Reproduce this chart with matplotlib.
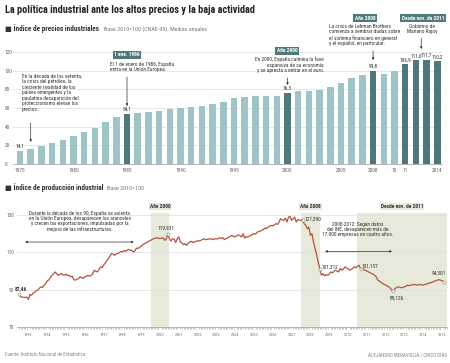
import matplotlib
matplotlib.use('Agg')
import matplotlib.pyplot as plt
from matplotlib import font_manager

# fuente condensada si está disponible
_names = {f.name for f in font_manager.fontManager.ttflist}
FONT = 'DejaVu Sans'
for fam in ['Liberation Sans Narrow', 'Roboto Condensed', 'Liberation Sans']:
    if fam in _names:
        FONT = fam
        break
plt.rcParams['font.family'] = [FONT, 'DejaVu Sans']

# --- datos: índice de precios industriales (medias anuales) ---
years = list(range(1975, 2015))
precios = [14.1, 15.9, 19.1, 22.3, 25.6, 29.9, 34.6, 38.9, 44.7, 50.1,
           54.1, 55.1, 55.5, 56.6, 58.7, 60.5, 61.6, 62.3, 64.1, 66.7,
           70.6, 72.1, 72.8, 72.8, 72.8, 76.3, 77.8, 78.6, 79.3, 82.8,
           86.8, 91.9, 95.1, 99.8, 96.6, 100.0, 106.9, 111.0, 111.7, 110.2]
dark_years = [1985, 2000, 2008, 2011, 2012, 2013, 2014]
bar_labels = {1975: '14,1', 1985: '54,1', 2000: '76,3', 2008: '99,8',
              2011: '106,9', 2012: '111,0', 2013: '111,7', 2014: '110,2'}
tick_years = [1975, 1980, 1985, 1990, 1995, 2000, 2005, 2008, 2010, 2011, 2014]
tick_text = ['1975', '1980', '1985', '1990', '1995', '2000', '2005', '2008', '10', '11', '2014']

# --- datos: índice de producción industrial (mensual, ene 1993 - ago 2015) ---
prod_1993 = [87.46, 86.2, 86.0, 85.9, 85.8, 86.0, 84.8, 87.4, 87.0, 88.1, 88.6, 89.4]
prod_1994 = [89.7, 90.8, 91.5, 91.2, 92.4, 93.0, 94.8, 95.2, 96.5, 97.7, 98.4, 99.5]
prod_1995 = [98.6, 97.7, 98.1, 98.6, 97.9, 97.7, 98.3, 97.5, 97.7, 96.8, 97.2, 95.3]
prod_1996 = [95.1, 95.6, 95.9, 96.8, 96.4, 96.0, 96.9, 97.1, 97.7, 97.2, 97.7, 98.3]
prod_1997 = [100.4, 99.8, 99.5, 100.6, 102.2, 101.8, 103.1, 104.2, 105.5, 106.6, 107.8, 109.3]
prod_1998 = [109.0, 108.4, 109.1, 109.3, 109.8, 110.4, 110.2, 110.9, 110.5, 111.1, 111.5, 111.1]
prod_1999 = [111.0, 110.2, 110.8, 112.3, 112.0, 112.8, 113.2, 114.1, 114.6, 115.0, 115.5, 116.0]
prod_2000 = [116.4, 116.9, 117.3, 117.6, 117.8, 117.5, 117.3, 117.6, 117.8, 116.4, 117.2, 119.931]
prod_2001 = [117.3, 116.0, 117.3, 117.0, 115.2, 117.3, 118.2, 115.5, 115.0, 114.1, 114.6, 113.7]
prod_2002 = [114.8, 115.5, 115.9, 115.2, 115.6, 115.8, 116.2, 116.0, 116.4, 116.8, 117.3, 116.7]
prod_2003 = [116.9, 117.1, 117.3, 117.0, 116.8, 117.3, 117.1, 117.3, 117.8, 117.4, 117.9, 116.8]
prod_2004 = [117.3, 117.6, 118.2, 118.6, 119.0, 118.5, 118.2, 118.8, 119.4, 118.9, 118.2, 120.0]
prod_2005 = [117.6, 118.4, 118.2, 118.7, 119.0, 119.6, 120.0, 119.7, 120.8, 121.0, 121.4, 121.7]
prod_2006 = [122.2, 123.0, 122.7, 123.5, 124.0, 124.4, 124.1, 124.8, 125.3, 125.0, 126.2, 128.0]
prod_2007 = [127.4, 127.1, 128.3, 126.2, 128.8, 129.2, 127.1, 128.0, 128.8, 126.2, 127.6, 127.2]
prod_2008 = [127.1, 127.39, 125.3, 124.6, 122.6, 123.5, 119.1, 120.0, 115.5, 112.0, 108.5, 104.6]
prod_2009 = [101.312, 97.7, 98.6, 97.4, 98.0, 97.7, 98.3, 99.5, 99.0, 99.8, 100.4, 99.9]
prod_2010 = [99.5, 101.3, 100.4, 101.0, 102.2, 101.6, 101.3, 100.4, 100.9, 101.3, 102.2, 101.7]
prod_2011 = [102.4, 103.1, 101.137, 101.3, 100.8, 100.4, 99.9, 99.5, 99.2, 98.6, 98.3, 97.7]
prod_2012 = [96.8, 95.1, 94.6, 94.0, 93.3, 92.9, 92.4, 92.0, 91.5, 90.8, 89.7, 89.126]
prod_2013 = [90.6, 91.1, 91.5, 91.3, 91.0, 91.2, 91.5, 91.9, 92.4, 92.1, 92.4, 92.6]
prod_2014 = [92.8, 92.6, 92.4, 92.7, 92.8, 92.5, 92.4, 92.8, 92.9, 93.3, 93.6, 93.8]
prod_2015 = [94.0, 94.5, 94.8, 95.1, 95.3, 95.1, 94.8, 94.301]

produccion = (prod_1993 + prod_1994 + prod_1995 + prod_1996 + prod_1997 + prod_1998 +
              prod_1999 + prod_2000 + prod_2001 + prod_2002 + prod_2003 + prod_2004 +
              prod_2005 + prod_2006 + prod_2007 + prod_2008 + prod_2009 + prod_2010 +
              prod_2011 + prod_2012 + prod_2013 + prod_2014 + prod_2015)
meses = [1993 + k / 12 for k in range(len(produccion))]

# puntos destacados: (índice del mes, etiqueta)
destacados = [(0, '87,46'), (95, '119,931'), (181, '127,390'), (192, '101,312'),
              (218, '101,137'), (239, '89,126'), (len(produccion) - 1, '94,301')]

LIGHT = '#9fc4c6'
DARK = '#4e7879'
LINE = '#b4533c'
BAND = '#e7e9da'
TXT = '#333333'
GREY = '#777777'

W, H = 450, 363
fig = plt.figure(figsize=(W / 100, H / 100), dpi=100)


def ftext(x, y, s, **kw):
    # texto en coordenadas de píxel (origen arriba a la izquierda)
    return fig.text(x / W, 1 - y / H, s, **kw)


def axes_px(left, top, right, bottom):
    return fig.add_axes([left / W, 1 - bottom / H, (right - left) / W, (bottom - top) / H])


# --- cabeceras ---
ftext(5, 10, 'La política industrial ante los altos precios y la baja actividad',
      fontsize=7.4, fontweight='bold', color='#222222', va='center')
ftext(5, 29, '■ Índice de precios industriales', fontsize=5.2, fontweight='bold', color=TXT, va='center')
ftext(104, 29.5, 'Base 2010=100 (CNAE-09). Medias anuales', fontsize=4.3, color=GREY, va='center')
ftext(5, 188, '■ Índice de producción industrial', fontsize=5.2, fontweight='bold', color=TXT, va='center')
ftext(107, 188.5, 'Base 2010=100', fontsize=4.3, color=GREY, va='center')

# ================= gráfico de barras =================
ax1 = axes_px(13, 15, 442, 164)
idx = list(range(len(years)))
colors = [DARK if y in dark_years else LIGHT for y in years]
ax1.bar(idx, precios, width=0.6, color=colors, zorder=2)
ax1.set_xlim(-0.654, 39.44)
ax1.set_ylim(0, 120 * 149 / 112)
ax1.set_yticks([0, 20, 40, 60, 80, 100, 120])
ax1.grid(axis='y', color='#dddddd', lw=0.5, zorder=0)
for s in ['top', 'right', 'left']:
    ax1.spines[s].set_visible(False)
ax1.spines['bottom'].set_color('#aaaaaa')
ax1.spines['bottom'].set_linewidth(0.6)
ax1.set_xticks([years.index(y) for y in tick_years])
ax1.set_xticklabels(tick_text)
ax1.tick_params(axis='x', length=0, pad=3.2, labelsize=3.9, labelcolor='#666666')
ax1.tick_params(axis='y', length=0, pad=5.8, labelsize=3.9, labelcolor='#666666')
for lab in ax1.get_yticklabels():
    lab.set_ha('left')

for y, lbl in bar_labels.items():
    i = years.index(y)
    ax1.annotate(lbl, (i, precios[i]), xytext=(0, 1.3), textcoords='offset points',
                 ha='center', va='bottom', fontsize=3.9, color=TXT)

# flechas (índice de barra, punta, cola)
flechas = [(1, 23.6, 43.9), (10, 62.1, 93.2), (25, 84.6, 92.1), (33, 111.4, 121.1), (37.5, 123.2, 135.0)]
for i, tip, tail in flechas:
    ax1.annotate('', xy=(i, tip), xytext=(i, tail), annotation_clip=False,
                 arrowprops=dict(arrowstyle='-|>', lw=0.5, color=TXT, mutation_scale=3,
                                 shrinkA=0, shrinkB=0))

box = dict(boxstyle='square,pad=0.25', fc=DARK, ec='none')
ann = dict(fontsize=3.9, color=TXT, linespacing=1.15)
ftext(22, 73.5, 'En la década de los setenta,\nla crisis del petróleo, la\ncreciente rivalidad de los\n'
      'países emergentes y la\npaulatina desaparición del\nproteccionismo elevan los\nprecios.',
      va='top', ha='left', **ann)
ftext(127, 55, '1 ene. 1986', ha='center', va='center', fontsize=3.9, fontweight='bold', color='white', bbox=box)
ftext(110, 61.5, 'El 1 de enero de 1986, España\nentra en la Unión Europea.', va='top', ha='left', **ann)
ftext(287, 51, 'Año 2000', ha='center', va='center', fontsize=3.9, fontweight='bold', color='white', bbox=box)
ftext(324, 56.5, 'En 2000, España culmina la fase\nexpansiva de su economía\ny se apresta a entrar en el euro.',
      va='top', ha='right', multialignment='right', **ann)
ftext(365, 18, 'Año 2008', ha='center', va='center', fontsize=3.9, fontweight='bold', color='white', bbox=box)
ftext(329, 23.5, 'La crisis de Lehman Brothers\ncomienza a sembrar dudas sobre\nel sistema financiero en general\n'
      'y el español, en particular.', va='top', ha='left', **ann)
ftext(423, 18, 'Desde nov. de 2011', ha='center', va='center', fontsize=3.9, fontweight='bold', color='white', bbox=box)
ftext(422, 23.5, 'Gobierno de\nMariano Rajoy', va='top', ha='center', multialignment='center', **ann)

# ================= gráfico de líneas =================
ax2 = axes_px(17, 200, 447, 327)
ax2.set_xlim(1993 - 2 / 18.8, 1993 + 428 / 18.8)
ax2.set_ylim(70, 138)
band_top = (131 - 70) / (138 - 70)
bandas = [(2000.0, 2001.0, 'Año 2000'), (2008.0, 2009.0, 'Año 2008'),
          (2010.98, 1993 + 428 / 18.8, 'Desde nov. de 2011')]
for x0, x1, lbl in bandas:
    ax2.axvspan(x0, x1, ymin=0, ymax=band_top, color=BAND, lw=0, zorder=0)
    ax2.text((x0 + x1) / 2, 134.3, lbl, ha='center', va='center', fontsize=3.9,
             fontweight='bold', color=TXT, bbox=dict(boxstyle='square,pad=0.2', fc=BAND, ec='none'))

ax2.set_yticks([70, 90, 110, 130])
ax2.grid(axis='y', color='#dddddd', lw=0.5, zorder=1)
ax2.plot(meses, produccion, color=LINE, lw=0.9, zorder=3)
for s in ['top', 'right', 'left']:
    ax2.spines[s].set_visible(False)
ax2.spines['bottom'].set_color('#aaaaaa')
ax2.spines['bottom'].set_linewidth(0.6)

ax2.set_xticks([y + 0.5 for y in range(1993, 2016)])
ax2.set_xticklabels([str(y) for y in range(1993, 2016)])
ax2.set_xticks([1993 + k / 12 for k in range(0, 12 * 23 - 2)], minor=True)
ax2.tick_params(axis='x', which='major', length=0, pad=4.5, labelsize=3.2, labelcolor=GREY)
ax2.tick_params(axis='x', which='minor', length=1.4, width=0.4, color='#999999')
ax2.tick_params(axis='y', length=0, pad=2.2, labelsize=3.9, labelcolor='#666666')

# marcadores y etiquetas de valores
offsets = {'87,46': (1.7, 3.8, 'center'), '119,931': (-1.2, 3.8, 'center'),
           '127,390': (1.2, 0.5, 'left'), '101,312': (1.1, 1.2, 'left'),
           '101,137': (0.6, 1.8, 'left'), '89,126': (2.2, -4.8, 'center'),
           '94,301': (2.0, 5.8, 'right')}
for k, lbl in destacados:
    ax2.plot(meses[k], produccion[k], 'o', ms=2.2, mfc='white', mec='#888888', mew=0.4, zorder=4)
    dx, dy, ha = offsets[lbl]
    ax2.annotate(lbl, (meses[k], produccion[k]), xytext=(dx, dy), textcoords='offset points',
                 ha=ha, va='center', fontsize=3.9, color=TXT,
                 fontweight='bold' if lbl == '87,46' else 'normal', zorder=5)

ax2.text(1996.24, 132.1, 'Durante la década de los 90, España se asienta\nen la Unión Europea, desaparecen los aranceles\n'
         'y crecen las exportaciones, impulsadas por la\nmejora de las infraestructuras.',
         ha='center', va='top', multialignment='center', fontsize=3.9, color=TXT, linespacing=0.98)
ax2.annotate('', xy=(1999.1, 115.5), xytext=(1993.33, 115.5),
             arrowprops=dict(arrowstyle='<|-|>', lw=0.5, color=TXT, mutation_scale=3, shrinkA=0, shrinkB=0))
ax2.text(2011.03, 126.3, '2008-2012: Según datos\ndel INE, desaparecen más de\n17.000 empresas en cuatro años.',
         ha='center', va='top', multialignment='center', fontsize=3.9, color=TXT, linespacing=1.05)
ax2.annotate('', xy=(2012.84, 110.5), xytext=(2009.28, 110.5),
             arrowprops=dict(arrowstyle='<|-|>', lw=0.5, color=TXT, mutation_scale=3, shrinkA=0, shrinkB=0))

# pie
ftext(5, 355, 'Fuente: Instituto Nacional de Estadística', fontsize=3.6, color='#888888', va='center')
ftext(447, 355, 'ALEJANDRO MERAVIGLIA / CINCO DÍAS', fontsize=3.6, color='#888888', va='center', ha='right')

fig.savefig('out.png', dpi=100, facecolor='white')
